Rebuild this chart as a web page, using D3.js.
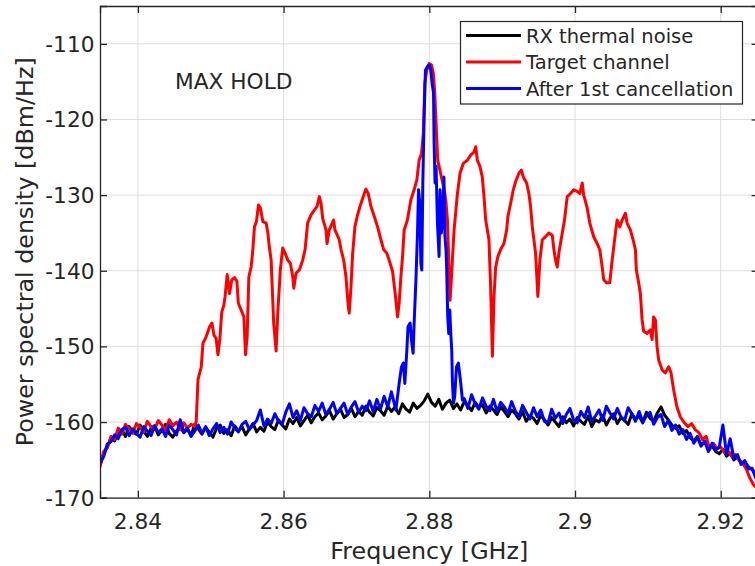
<!DOCTYPE html>
<html>
<head>
<meta charset="utf-8">
<script src="https://cdn.jsdelivr.net/npm/d3@7"></script>
<style>
  html, body { margin: 0; padding: 0; background: #fff; }
  svg { display: block; font-family: "DejaVu Sans", sans-serif; }
</style>
</head>
<body>
<svg id="chart" width="755" height="566"></svg>
<script>
// Spectrum analyser sweep grid (GHz) shared by the noise traces
const fGridStart = 2.8348;
const fGridStep = 0.0005;

// RX thermal noise, one value per grid bin (dBm/Hz)
const rxThermalNoise = [
  -165.8,-164.2,-163.3,-162.2,-162.5,-161.4,-161.0,-161.9,-160.6,-161.3,
  -161.6,-160.4,-161.2,-161.9,-160.8,-160.5,-161.7,-161.1,-160.3,-161.5,
  -162.0,-161.2,-160.6,-161.4,-160.9,-161.8,-160.3,-160.9,-161.6,-160.7,
  -161.3,-162.0,-160.8,-160.4,-161.5,-161.0,-161.8,-160.5,-161.2,-160.6,
  -161.7,-160.9,-160.2,-161.3,-160.7,-161.2,-160.0,-160.6,-161.0,-159.7,
  -160.4,-160.9,-159.6,-160.2,-159.4,-160.5,-159.8,-159.1,-160.1,-159.3,
  -158.8,-159.7,-159.2,-158.5,-159.6,-158.9,-158.3,-159.4,-159.0,-158.2,
  -159.3,-158.6,-159.1,-157.9,-158.7,-159.2,-158.1,-158.5,-159.1,-157.9,
  -158.6,-158.0,-158.9,-157.6,-158.3,-158.7,-157.5,-158.2,-157.8,-157.2,
  -156.3,-157.4,-157.9,-157.0,-158.3,-157.5,-157.1,-158.2,-157.6,-158.4,
  -157.3,-157.8,-158.5,-157.4,-158.1,-157.7,-158.8,-157.9,-158.4,-159.0,
  -158.0,-158.6,-159.3,-158.4,-158.9,-159.6,-158.6,-159.9,-159.2,-159.5,
  -160.2,-159.1,-159.7,-160.4,-159.4,-160.0,-160.6,-159.3,-160.1,-159.6,
  -160.5,-159.4,-159.9,-160.3,-159.2,-160.6,-159.7,-160.0,-159.1,-160.4,
  -159.5,-158.9,-160.2,-159.4,-159.8,-160.3,-158.9,-159.6,-159.2,-160.1,
  -158.7,-159.5,-159.9,-158.8,-158.0,-159.1,-159.7,-160.4,-160.8,-160.5,
  -161.5,-161.1,-162.1,-162.5,-161.9,-163.0,-162.7,-163.4,-163.1,-163.9,
  -164.2,-163.6,-164.5,-164.1,-165.0,-164.6,-165.5,-165.3,-165.9,-166.3,
  -166.8
];

// After 1st cancellation: grid bins 0..80, residual peak, grid bins 100..180
const afterCancelLow = [
  -165.4,-164.6,-162.9,-162.6,-161.7,-162.2,-161.0,-160.7,-161.8,-160.9,
  -161.5,-162.0,-160.6,-161.2,-161.8,-160.5,-161.4,-160.9,-161.9,-160.4,
  -161.0,-161.7,-159.7,-161.3,-160.8,-161.9,-161.2,-160.4,-161.5,-160.6,
  -161.8,-160.9,-160.2,-161.4,-160.7,-161.6,-160.0,-160.8,-161.3,-160.3,
  -159.9,-161.0,-160.4,-159.8,-158.4,-160.5,-159.6,-160.2,-158.9,-159.9,
  -160.3,-158.7,-157.6,-159.4,-158.5,-159.8,-158.1,-158.9,-159.3,-157.8,
  -158.6,-157.5,-159.0,-158.3,-157.4,-158.9,-158.2,-157.5,-159.0,-158.0,
  -157.3,-158.7,-157.9,-158.5,-157.2,-158.6,-157.0,-158.3,-156.6,-158.0,
  -156.0
];
const afterCancelPeak = [
  [2.87541,-158.4],[2.87586,-154.9],[2.87618,-152.7],[2.87645,-152.2],[2.87664,-154.9],
  [2.87692,-150.5],[2.87708,-147.4],[2.87737,-146.9],[2.8776,-149.6],[2.87778,-150.9],
  [2.87792,-146.9],[2.87815,-141.6],[2.87838,-135.0],[2.87852,-129.3],[2.8787,-131.1],
  [2.87884,-139.0],[2.87897,-139.9],[2.87911,-128.4],[2.87929,-119.6],[2.87947,-113.5],
  [2.87975,-113.0],[2.88003,-112.8],[2.88021,-113.5],[2.88038,-115.2],[2.88058,-116.5],
  [2.88066,-123.1],[2.88079,-128.4],[2.88093,-126.2],[2.88112,-133.7],[2.88134,-138.1],
  [2.88148,-129.3],[2.88166,-135.0],[2.88185,-132.8],[2.88201,-127.6],[2.88215,-135.5],
  [2.88229,-137.2],[2.88238,-139.5],[2.88253,-146.1],[2.88267,-148.3],[2.88281,-145.2],
  [2.88295,-148.3],[2.88308,-150.5],[2.88318,-154.9],[2.88332,-157.5],[2.88349,-156.6],
  [2.88373,-152.7],[2.88399,-152.2],[2.88432,-154.9],[2.88455,-157.1]
];
const afterCancelHigh = [
  -156.9,-158.2,-156.4,-157.6,-158.3,-156.8,-157.9,-158.5,-157.0,-158.6,
  -157.4,-158.0,-158.9,-157.3,-158.5,-159.3,-157.8,-158.7,-159.6,-158.1,
  -159.3,-158.4,-159.9,-160.1,-158.3,-159.5,-158.8,-160.2,-159.0,-158.2,
  -159.7,-160.1,-158.6,-159.4,-158.0,-159.9,-159.2,-158.4,-159.8,-157.9,
  -158.8,-159.6,-158.2,-159.3,-159.8,-158.1,-158.9,-159.9,-158.6,-160.0,
  -159.2,-158.7,-160.3,-159.4,-159.0,-160.6,-159.8,-161.1,-160.4,-161.6,
  -161.0,-162.3,-161.5,-162.8,-162.0,-163.2,-162.5,-163.9,-162.8,-163.7,
  -163.3,-160.4,-164.3,-162.2,-164.8,-164.3,-165.6,-165.1,-166.2,-166.1,
  -167.4
];
const afterCancelHighStart = 100;

// Target channel, [frequency GHz, dBm/Hz]
const targetChannel = [
  [2.8348,-165.9],[2.8353,-163.9],[2.8358,-163.4],[2.8363,-161.9],[2.8368,-162.3],
  [2.8373,-160.8],[2.8378,-161.6],[2.8383,-160.3],[2.8388,-160.9],[2.8393,-161.5],
  [2.8398,-160.2],[2.8403,-160.7],[2.8408,-161.3],[2.8413,-159.9],[2.8418,-160.6],
  [2.8423,-161.0],[2.8428,-159.8],[2.8433,-160.4],[2.8438,-161.1],[2.8443,-159.7],
  [2.8448,-160.5],[2.8453,-160.0],[2.8458,-161.0],[2.8463,-160.1],[2.8468,-160.8],
  [2.8473,-160.3],[2.8478,-160.6],
  [2.84801,-159.9],[2.84825,-154.4],[2.8487,-152.7],[2.84893,-149.6],[2.84938,-148.7],
  [2.84984,-147.4],[2.85016,-146.9],[2.85044,-148.5],[2.85075,-149.0],[2.85099,-151.1],
  [2.85125,-149.0],[2.85152,-145.4],[2.85179,-144.6],[2.85197,-143.4],[2.85226,-140.5],
  [2.85258,-143.0],[2.85289,-141.2],[2.85326,-140.9],[2.85359,-141.4],[2.85379,-144.3],
  [2.85418,-145.2],[2.85455,-146.1],[2.85477,-151.1],[2.855,-148.7],[2.85523,-140.8],
  [2.85555,-139.5],[2.85578,-137.2],[2.856,-134.2],[2.85627,-133.5],[2.85655,-131.3],
  [2.85682,-131.7],[2.85715,-133.5],[2.8576,-133.7],[2.85784,-135.0],[2.85801,-136.6],
  [2.85829,-138.6],[2.85864,-146.9],[2.85897,-150.6],[2.8592,-145.6],[2.85955,-139.9],
  [2.85988,-137.0],[2.86021,-137.7],[2.86058,-138.6],[2.86093,-139.0],[2.86126,-140.8],
  [2.8614,-142.3],[2.86171,-140.3],[2.86216,-139.9],[2.86262,-138.6],[2.86295,-137.2],
  [2.8633,-133.7],[2.86377,-132.6],[2.86422,-132.0],[2.86459,-131.5],[2.8649,-130.2],
  [2.86514,-131.1],[2.86537,-133.1],[2.86582,-134.6],[2.86596,-136.4],[2.86627,-134.6],
  [2.86659,-133.9],[2.86686,-133.3],[2.86705,-134.6],[2.86764,-135.9],[2.86788,-137.2],
  [2.86825,-138.6],[2.86856,-140.8],[2.86888,-144.7],[2.86901,-145.6],[2.86925,-142.1],
  [2.86948,-137.7],[2.86979,-134.2],[2.87015,-132.6],[2.87062,-131.1],[2.87107,-129.8],
  [2.8713,-129.2],[2.87162,-129.8],[2.87199,-131.5],[2.87244,-132.8],[2.8729,-134.2],
  [2.87336,-135.9],[2.87373,-137.2],[2.87418,-137.7],[2.87449,-138.6],[2.87496,-140.1],
  [2.87532,-143.0],[2.87564,-146.1],[2.87586,-144.3],[2.8761,-140.8],[2.87633,-138.1],
  [2.87655,-134.6],[2.877,-133.3],[2.87747,-130.6],[2.87792,-129.3],[2.87829,-128.0],
  [2.8786,-125.4],[2.87893,-124.5],[2.87919,-121.8],[2.87938,-115.2],[2.87966,-113.5],
  [2.87997,-112.6],[2.8803,-112.8],[2.88056,-113.9],[2.88075,-116.5],[2.88103,-122.7],
  [2.88116,-125.4],[2.88134,-126.2],[2.88166,-127.6],[2.88201,-129.1],[2.88226,-130.6],
  [2.88249,-133.3],[2.88271,-139.9],[2.88285,-143.9],[2.88304,-140.8],[2.8834,-134.6],
  [2.88386,-129.8],[2.88422,-127.1],[2.88467,-125.8],[2.88522,-125.4],[2.88568,-124.7],
  [2.88614,-124.3],[2.88637,-123.6],[2.8866,-125.4],[2.88695,-126.2],[2.88727,-127.6],
  [2.88751,-130.2],[2.88774,-133.3],[2.88797,-134.6],[2.88819,-135.9],[2.88842,-142.1],
  [2.88866,-151.3],[2.88888,-143.4],[2.88911,-139.5],[2.88942,-138.1],[2.88979,-137.2],
  [2.89025,-136.4],[2.89062,-134.6],[2.89079,-132.8],[2.89116,-131.1],[2.89153,-129.3],
  [2.89185,-128.2],[2.8923,-127.1],[2.89263,-126.7],[2.8929,-127.6],[2.89336,-128.4],
  [2.89367,-129.8],[2.8939,-131.5],[2.89414,-134.2],[2.89459,-137.7],[2.8949,-143.4],
  [2.89518,-138.6],[2.89551,-135.9],[2.89596,-135.5],[2.89641,-135.0],[2.89688,-135.3],
  [2.8971,-137.2],[2.89733,-138.6],[2.89756,-139.5],[2.89778,-137.7],[2.89825,-135.0],
  [2.89856,-133.3],[2.89893,-130.2],[2.89938,-129.8],[2.89984,-129.3],[2.9003,-129.5],
  [2.90066,-129.8],[2.90099,-128.4],[2.90119,-130.0],[2.90167,-131.7],[2.90203,-133.7],
  [2.90256,-135.5],[2.90304,-136.4],[2.9034,-137.2],[2.90373,-139.5],[2.90395,-141.2],
  [2.90432,-141.6],[2.90477,-141.6],[2.9051,-138.6],[2.90555,-135.0],[2.90578,-133.3],
  [2.90614,-134.2],[2.90647,-133.3],[2.90692,-132.4],[2.90715,-133.7],[2.9076,-134.6],
  [2.90797,-135.9],[2.90829,-137.2],[2.90842,-139.9],[2.90874,-141.6],[2.90897,-143.0],
  [2.90921,-146.5],[2.90942,-148.0],[2.90988,-148.3],[2.91034,-147.8],[2.91058,-149.1],
  [2.91079,-146.1],[2.91103,-146.5],[2.91126,-150.0],[2.91148,-151.8],[2.91195,-153.1],
  [2.9124,-153.5],[2.91285,-152.7],[2.91318,-153.5],[2.91353,-155.7],[2.91399,-158.0],
  [2.91445,-159.3],[2.915,-160.1],
  [2.9155,-160.6],[2.916,-160.2],[2.9165,-161.0],[2.917,-161.4],[2.9175,-162.3],
  [2.918,-161.9],[2.9185,-163.6],[2.919,-162.8],[2.9195,-163.5],[2.92,-163.3],
  [2.9205,-164.0],[2.921,-163.8],[2.9215,-164.5],[2.922,-164.3],[2.9225,-165.0],
  [2.923,-165.4],[2.9235,-166.2],[2.924,-167.4],[2.9245,-168.3],[2.9252,-168.9]
];

// Axes ticks and labels
const xTicks = [2.84, 2.86, 2.88, 2.90, 2.92];
const xTickLabels = ["2.84", "2.86", "2.88", "2.9", "2.92"];
const yTicks = [-170, -160, -150, -140, -130, -120, -110];
const yTickLabels = ["-170", "-160", "-150", "-140", "-130", "-120", "-110"];
const seriesNames = ["RX thermal noise", "Target channel", "After 1st cancellation"];
const seriesColors = ["#000000", "#ff0000", "#0000ff"];

// Build the traces
const gridPoint = i => fGridStart + i * fGridStep;
const noiseTrace = rxThermalNoise.map((v, i) => [gridPoint(i), v]);
const cancelTrace = afterCancelLow.map((v, i) => [gridPoint(i), v])
  .concat(afterCancelPeak)
  .concat(afterCancelHigh.map((v, i) => [gridPoint(afterCancelHighStart + i), v]));
const traces = [noiseTrace, targetChannel, cancelTrace];

// Layout
const plot = { left: 100, top: 6, right: 758.6, bottom: 497.7 };
const axisColor = "#262626";

const svg = d3.select("#chart");
const x = d3.scaleLinear().domain([2.8348, 2.9252]).range([plot.left, plot.right]);
const y = d3.scaleLinear().domain([-170, -105]).range([plot.bottom, plot.top]);

// Grid
const grid = svg.append("g").attr("stroke", "#dedede").attr("stroke-width", 1);
grid.selectAll("line.gx").data(xTicks).join("line")
  .attr("x1", d => x(d)).attr("x2", d => x(d))
  .attr("y1", plot.top).attr("y2", plot.bottom);
grid.selectAll("line.gy").data(yTicks).join("line")
  .attr("x1", plot.left).attr("x2", plot.right)
  .attr("y1", d => y(d)).attr("y2", d => y(d));

// Traces
svg.append("clipPath").attr("id", "plotClip").append("rect")
  .attr("x", plot.left).attr("y", plot.top)
  .attr("width", plot.right - plot.left).attr("height", plot.bottom - plot.top);

const line = d3.line().x(d => x(d[0])).y(d => y(d[1]));
svg.append("g").attr("clip-path", "url(#plotClip)")
  .selectAll("path").data(traces).join("path")
  .attr("d", line)
  .attr("fill", "none")
  .attr("stroke", (d, i) => seriesColors[i])
  .attr("stroke-width", 3)
  .attr("stroke-linejoin", "round")
  .attr("stroke-linecap", "round");

// Axes (ticks point inward, box on)
const xAxisBottom = d3.axisBottom(x).tickValues(xTicks).tickSize(-7).tickFormat("");
const xAxisTop = d3.axisTop(x).tickValues(xTicks).tickSize(-7).tickFormat("");
const yAxisLeft = d3.axisLeft(y).tickValues(yTicks).tickSize(-7).tickFormat("");
const yAxisRight = d3.axisRight(y).tickValues(yTicks).tickSize(-7).tickFormat("");

function styleAxis(g) {
  g.selectAll("path").attr("stroke", axisColor).attr("stroke-width", 1.3);
  g.selectAll("line").attr("stroke", axisColor).attr("stroke-width", 1.3);
}
svg.append("g").attr("transform", `translate(0,${plot.bottom})`).call(xAxisBottom).call(styleAxis);
svg.append("g").attr("transform", `translate(0,${plot.top})`).call(xAxisTop).call(styleAxis);
svg.append("g").attr("transform", `translate(${plot.left},0)`).call(yAxisLeft).call(styleAxis);
svg.append("g").attr("transform", `translate(${plot.right},0)`).call(yAxisRight).call(styleAxis);

// Tick labels
svg.append("g").selectAll("text").data(xTicks).join("text")
  .attr("x", d => x(d)).attr("y", 528.5)
  .attr("text-anchor", "middle")
  .attr("font-size", "21.7px").attr("fill", axisColor)
  .text((d, i) => xTickLabels[i]);
svg.append("g").selectAll("text").data(yTicks).join("text")
  .attr("x", 94.5).attr("y", d => y(d) + 7.9)
  .attr("text-anchor", "end")
  .attr("font-size", "21.7px").attr("fill", axisColor)
  .text((d, i) => yTickLabels[i]);

// Axis titles
svg.append("text")
  .attr("x", (plot.left + plot.right) / 2).attr("y", 559)
  .attr("text-anchor", "middle").attr("font-size", "23.8px").attr("fill", axisColor)
  .text("Frequency [GHz]");
svg.append("text")
  .attr("transform", `translate(33.3,${(plot.top + plot.bottom) / 2}) rotate(-90)`)
  .attr("text-anchor", "middle").attr("font-size", "23.8px").attr("fill", axisColor)
  .text("Power spectral density [dBm/Hz]");

// Annotation
svg.append("text")
  .attr("x", 175).attr("y", 89)
  .attr("font-size", "21.7px").attr("fill", axisColor)
  .text("MAX HOLD");

// Legend
const legend = svg.append("g");
legend.append("rect")
  .attr("x", 460.5).attr("y", 21.5).attr("width", 282).attr("height", 82.5)
  .attr("fill", "#fff").attr("stroke", axisColor).attr("stroke-width", 1.2);
const legendRows = [35.6, 62, 88.6];
seriesNames.forEach((name, i) => {
  legend.append("line")
    .attr("x1", 466).attr("x2", 521)
    .attr("y1", legendRows[i]).attr("y2", legendRows[i])
    .attr("stroke", seriesColors[i]).attr("stroke-width", 3);
  legend.append("text")
    .attr("x", 526).attr("y", legendRows[i] + 7.1)
    .attr("font-size", "19.5px").attr("fill", axisColor)
    .text(name);
});
</script>
</body>
</html>
